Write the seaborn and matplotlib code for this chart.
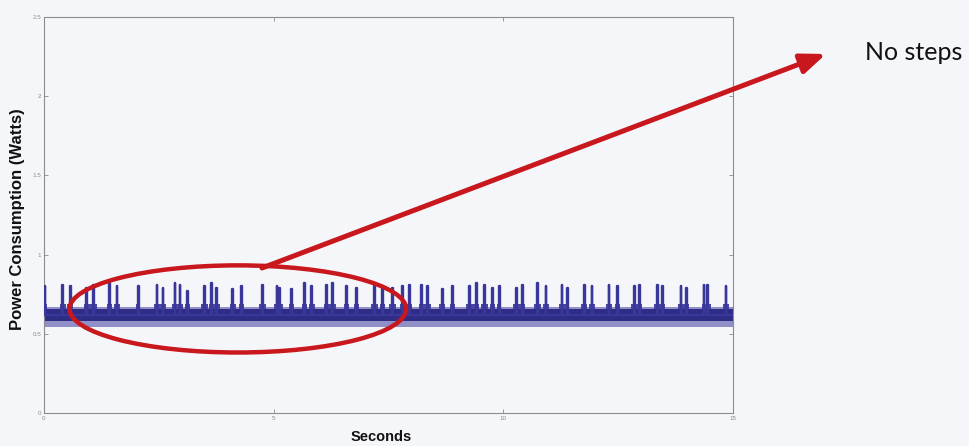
import matplotlib
matplotlib.use("Agg")
import matplotlib.pyplot as plt
from matplotlib.patches import Ellipse
import pandas as pd
import seaborn as sns

# Spike events of the power trace: time (s) and peak power (W)
spike_times = [0.02, 0.41, 0.57, 0.93, 1.07, 1.43, 1.59, 2.05, 2.46, 2.59,
               2.85, 2.96, 3.13, 3.50, 3.65, 3.76, 4.11, 4.30, 4.76, 5.07,
               5.13, 5.39, 5.67, 5.83, 6.15, 6.28, 6.59, 6.80, 7.20, 7.37,
               7.59, 7.80, 7.96, 8.22, 8.35, 8.67, 8.89, 9.26, 9.41, 9.59,
               9.76, 9.91, 10.28, 10.41, 10.74, 10.93, 11.28, 11.39, 11.76, 11.93,
               12.30, 12.48, 12.85, 12.96, 13.35, 13.46, 13.87, 13.98, 14.37, 14.45,
               14.85]
spike_peaks = [0.80, 0.81, 0.80, 0.79, 0.81, 0.82, 0.80, 0.80, 0.81, 0.79,
               0.82, 0.81, 0.77, 0.80, 0.82, 0.79, 0.78, 0.80, 0.81, 0.80,
               0.79, 0.78, 0.82, 0.80, 0.81, 0.82, 0.80, 0.79, 0.81, 0.80,
               0.79, 0.80, 0.81, 0.81, 0.80, 0.78, 0.80, 0.80, 0.82, 0.81,
               0.79, 0.80, 0.79, 0.81, 0.82, 0.80, 0.81, 0.79, 0.81, 0.80,
               0.81, 0.80, 0.80, 0.81, 0.81, 0.80, 0.80, 0.79, 0.81, 0.81,
               0.80]
# Length (s) of the raised shelf that surrounds each spike
shelf_spans = [0.10, 0.14, 0.12, 0.10, 0.16, 0.12, 0.14, 0.10, 0.14, 0.12,
               0.12, 0.14, 0.10, 0.16, 0.12, 0.14, 0.12, 0.10, 0.14, 0.12,
               0.16, 0.10, 0.12, 0.14, 0.12, 0.14, 0.12, 0.10, 0.16, 0.12,
               0.14, 0.12, 0.10, 0.12, 0.14, 0.12, 0.10, 0.16, 0.12, 0.14,
               0.12, 0.10, 0.14, 0.12, 0.16, 0.12, 0.14, 0.10, 0.12, 0.14,
               0.12, 0.10, 0.14, 0.12, 0.16, 0.12, 0.14, 0.12, 0.10, 0.14,
               0.12]

# Idle levels of the trace (W)
base_level = 0.62
shelf_level = 0.69
band_low, band_high = 0.58, 0.655
fringe_low, fringe_high = 0.54, 0.668
t_start, t_end = 0.0, 15.0

x_ticks = [0, 5, 10, 15]
x_tick_labels = ["0", "5", "10", "15"]
y_ticks = [0, 0.5, 1, 1.5, 2, 2.5]
y_tick_labels = ["0", "0.5", "1", "1.5", "2", "2.5"]

# Spike trace: base -> peak -> base for each event
half_spike = 0.008
xs, ys = [t_start], [base_level]
for t, h in zip(spike_times, spike_peaks):
    xs += [t - half_spike, t - half_spike, t + half_spike, t + half_spike]
    ys += [base_level, h, h, base_level]
xs.append(t_end)
ys.append(base_level)
trace = pd.DataFrame({"Seconds": xs, "Power": ys})

sns.set_theme(style="white")
plt.rcParams["font.family"] = ["Liberation Sans", "DejaVu Sans"]

bg = "#f5f6fa"
band_color = "#2f2c85"
line_color = "#3a379a"
red = "#c8171d"

fig = plt.figure(figsize=(9.7, 4.46), dpi=100, facecolor=bg)
ax = fig.add_axes([44 / 970, 33 / 446, 689 / 970, 396 / 446])
ax.set_facecolor(bg)

# Dense idle band and its lighter fringe
ax.fill_between([t_start, t_end], [fringe_low] * 2, [fringe_high] * 2,
                color="#7f7dc0", alpha=0.85, lw=0, zorder=1)
ax.fill_between([t_start, t_end], [band_low] * 2, [band_high] * 2,
                color=band_color, lw=0, zorder=2)

# Raised shelves around each spike
ax.bar(spike_times, [shelf_level - band_high] * len(spike_times),
       bottom=band_high, width=shelf_spans, color="#4a47a3", lw=0, zorder=2)

sns.lineplot(data=trace, x="Seconds", y="Power", sort=False, estimator=None,
             color=line_color, lw=1.7, ax=ax, zorder=3)

ax.set_xlim(t_start, t_end)
ax.set_ylim(0, 2.5)
ax.set_xticks(x_ticks, x_tick_labels)
ax.set_yticks(y_ticks, y_tick_labels)
ax.tick_params(direction="in", length=3, width=0.6, colors="#8a8a8a",
               labelsize=4.5, top=True, right=True, pad=2,
               bottom=True, left=True)
for s in ax.spines.values():
    s.set_color("#8c8c8c")
    s.set_linewidth(0.8)

ax.set_xlabel("Seconds", fontsize=10.5, fontweight="bold", color="#111111")
ax.set_ylabel("Power Consumption (Watts)", fontsize=12, fontweight="bold",
              color="#111111")
ax.xaxis.set_label_coords(0.49, -0.06)
ax.xaxis.label.set_va("center")
ax.yaxis.set_label_coords(-0.038, 0.49)
ax.yaxis.label.set_va("center")

# Highlight ellipse around the first half of the trace
ax.add_patch(Ellipse((4.22, 0.657), width=7.33, height=0.55, fill=False,
                     edgecolor=red, lw=3.2, zorder=5, clip_on=False))

# Callout arrow and note
ax.annotate("", xy=(826 / 970, 1 - 54 / 446), xycoords="figure fraction",
            xytext=(262 / 970, 1 - 268 / 446), textcoords="figure fraction",
            arrowprops=dict(arrowstyle="-|>,head_length=0.5,head_width=0.2",
                            mutation_scale=30, lw=3.6, color=red,
                            shrinkA=0, shrinkB=0),
            zorder=6)
fig.text(865 / 970, 1 - 52 / 446, "No steps", fontsize=18, color="#111111",
         family=["Lato", "DejaVu Sans"], ha="left", va="center")

fig.savefig("out.png", dpi=100, facecolor=bg)
